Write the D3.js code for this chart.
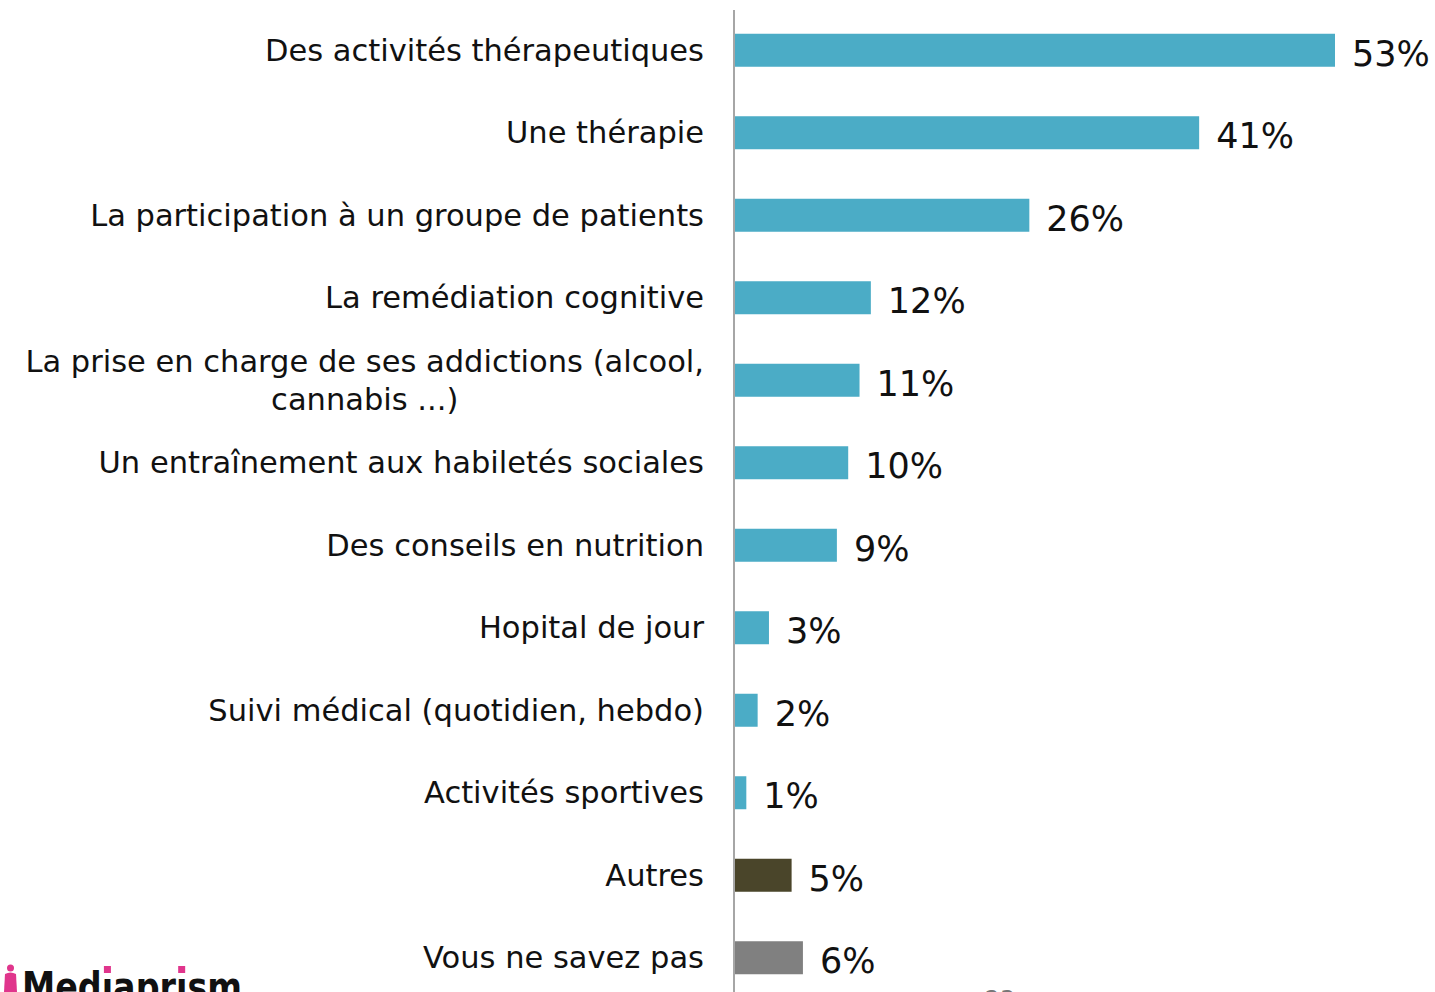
<!DOCTYPE html>
<html lang="fr">
<head>
<meta charset="UTF-8">
<title>bar chart</title>
<script src="https://d3js.org/d3.v7.min.js"></script>
<style>
    body { margin: 0; background: #fff; overflow: hidden; }
    svg { display: block; }
    .cat { font-family: "DejaVu Sans", sans-serif; font-size: 30.5px; fill: #111; }
    .val { font-family: "DejaVu Sans", sans-serif; font-size: 35px; fill: #111; }
</style>
</head>
<body>
<div id="chart"></div>
<script>
    // data
    let categories = [
        "Des activités thérapeutiques",
        "Une thérapie",
        "La participation à un groupe de patients",
        "La remédiation cognitive",
        "La prise en charge de ses addictions (alcool,|cannabis ...)",
        "Un entraînement aux habiletés sociales",
        "Des conseils en nutrition",
        "Hopital de jour",
        "Suivi médical (quotidien, hebdo)",
        "Activités sportives",
        "Autres",
        "Vous ne savez pas"
    ];
    let values = [53, 41, 26, 12, 11, 10, 9, 3, 2, 1, 5, 6];
    let barColors = ["#4bacc6", "#4bacc6", "#4bacc6", "#4bacc6", "#4bacc6", "#4bacc6",
        "#4bacc6", "#4bacc6", "#4bacc6", "#4bacc6", "#4a452a", "#808080"];

    let width = 1435, height = 992;

    let svg = d3.select("#chart").append("svg")
        .attr("width", width)
        .attr("height", height);

    let x = d3.scaleLinear()
        .domain([0, 53])
        .range([735, 1335]);

    let y = d3.scaleBand()
        .domain(categories)
        .range([9, 999])
        .paddingInner(0.6)
        .paddingOuter(0.3);

    // bars
    svg.selectAll(".bar")
        .data(categories)
        .enter().append("rect")
        .attr("class", "bar")
        .attr("x", x(0))
        .attr("y", d => y(d))
        .attr("width", (d, i) => x(values[i]) - x(0))
        .attr("height", y.bandwidth())
        .attr("fill", (d, i) => barColors[i]);

    // vertical axis line
    svg.append("line")
        .attr("x1", x(0) - 1).attr("x2", x(0) - 1)
        .attr("y1", 10).attr("y2", height)
        .attr("stroke", "#a6a6a6")
        .attr("stroke-width", 2);

    // category labels
    let labelX = 704;
    categories.forEach((c, i) => {
        let lines = c.split("|");
        let cy = y(c) + y.bandwidth() / 2;
        if (lines.length === 1) {
            svg.append("text")
                .attr("class", "cat")
                .attr("x", labelX)
                .attr("y", cy)
                .attr("dy", "0.35em")
                .attr("text-anchor", "end")
                .text(lines[0]);
        } else {
            let t1 = svg.append("text")
                .attr("class", "cat")
                .attr("x", labelX)
                .attr("y", cy - 19)
                .attr("dy", "0.35em")
                .attr("text-anchor", "end")
                .text(lines[0]);
            let w1 = t1.node().getComputedTextLength();
            svg.append("text")
                .attr("class", "cat")
                .attr("x", labelX - w1 / 2)
                .attr("y", cy + 19)
                .attr("dy", "0.35em")
                .attr("text-anchor", "middle")
                .text(lines[1]);
        }
    });

    // value labels
    svg.selectAll(".val")
        .data(categories)
        .enter().append("text")
        .attr("class", "val")
        .attr("x", (d, i) => x(values[i]) + 17)
        .attr("y", d => y(d) + y.bandwidth() / 2 + 3)
        .attr("dy", "0.35em")
        .text((d, i) => values[i] + "%");

    // logo, cut by the bottom edge
    let logo = svg.append("g");
    logo.append("circle").attr("cx", 10.5).attr("cy", 968).attr("r", 3.5).attr("fill", "#e0358c");
    logo.append("path")
        .attr("d", "M5,974 Q10.5,971 16,974 L17,992 L4,992 Z")
        .attr("fill", "#e0358c");
    let lt = logo.append("text")
        .attr("x", 22)
        .attr("y", 1001)
        .attr("textLength", 220)
        .attr("lengthAdjust", "spacingAndGlyphs")
        .style("font-family", "'DejaVu Sans', sans-serif")
        .style("font-weight", "bold")
        .style("font-size", "40px")
        .attr("fill", "#111")
        .text("Med\u0131apr\u0131sm");
    [3, 7].forEach(k => {
        let p = lt.node().getStartPositionOfChar(k);
        let w = lt.node().getExtentOfChar(k).width;
        logo.append("rect")
            .attr("x", p.x + w / 2 - 3.5)
            .attr("y", 966)
            .attr("width", 7)
            .attr("height", 7)
            .attr("fill", "#e0358c");
    });

    // page number, mostly off the page
    svg.append("text")
        .attr("x", 1000)
        .attr("y", 1008)
        .attr("text-anchor", "middle")
        .style("font-family", "'DejaVu Sans', sans-serif")
        .style("font-size", "24px")
        .attr("fill", "#777")
        .text("23");
</script>
</body>
</html>
